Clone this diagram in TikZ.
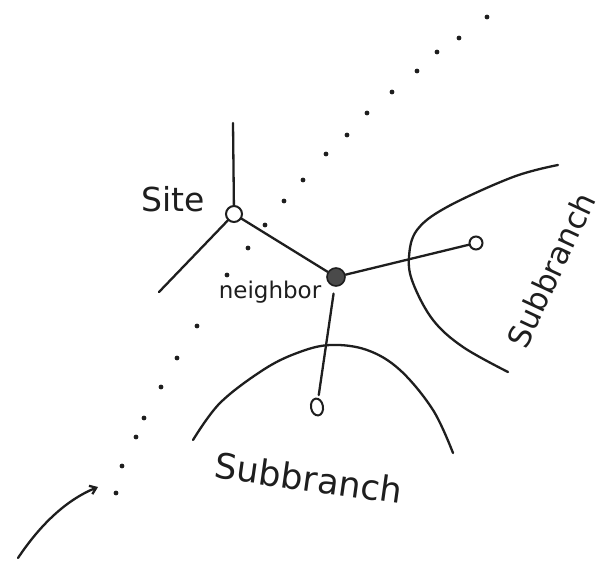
\documentclass[tikz,border=0pt]{standalone}
\usepackage{fontspec}
\setmainfont{DejaVu Sans}
\usetikzlibrary{arrows.meta,shapes.geometric}
\definecolor{ink}{HTML}{1E1E1E}
\definecolor{nbfill}{HTML}{4A4A4A}
\tikzset{
  pen/.style={draw=ink, line width=2.3pt, line cap=round, line join=round},
  opennode/.style={circle, draw=ink, line width=2pt, fill=white, inner sep=0pt},
  dotmark/.style={fill=ink},
  hand/.style={text=ink, inner sep=0pt}
}
\begin{document}
\begin{tikzpicture}[x=1pt,y=-1pt]
\useasboundingbox (0,0) rectangle (604,573);
\fill[white] (0,0) rectangle (604,573);

% dotted diagonal
\foreach \px/\py in {487/17,459/38,437/52,417/71,392/92,367/113,347/135,326/154,303/180,284/201,265/225,248/248,227/275,197/326,177/358,161/387,144/418,136/437,122/466,116/493}
  \fill[dotmark] (\px,\py) circle (2.4pt);

% subbranch curves
\draw[pen] plot[smooth, tension=0.6] coordinates {(558,165) (513,177) (447,207) (417,230) (409,257) (413,283) (433,320) (463,347) (508,372)};
\draw[pen] plot[smooth, tension=0.6] coordinates {(193,440) (220,403) (263,370) (297,353) (330,345) (367,350) (400,370) (433,410) (453,453)};

% nodes
\node[opennode, minimum size=16pt] (site) at (234,214) {};
\node[circle, draw=ink, fill=nbfill, line width=1.6pt, minimum size=18pt, inner sep=0pt] (nb) at (336,277) {};
\node[opennode, minimum size=13pt] (rc) at (476,243) {};
\node[ellipse, draw=ink, line width=2pt, fill=white, minimum width=12pt, minimum height=17pt, inner sep=0pt, rotate=10] (bc) at (317,407) {};

\coordinate (siteUp) at (233,123);
\coordinate (siteDL) at (159,292);

% connectors
\draw[pen] (site) -- (siteUp);
\draw[pen] (site) -- (siteDL);
\draw[pen] (site) -- (nb);
\draw[pen] (nb) -- (rc);
\draw[pen, shorten <=7pt, shorten >=3pt] (nb) -- (bc);

% arrow
\coordinate (arrS) at (18,558);
\coordinate (arrE) at (98,487);
\draw[pen, -{Straight Barb[length=6pt,width=9pt]}] (arrS) .. controls (40,525) and (66,500) .. (arrE);

% labels
\node[hand, font=\fontsize{33}{36}\selectfont] (sitelbl) at (173,199) {Site};
\node[hand, font=\fontsize{23}{26}\selectfont] (nblbl) at (270,292) {neighbor};
\node[hand, font=\fontsize{35}{40}\selectfont, rotate=-8] (sb1) at (309,478) {Subbranch};
\node[hand, font=\fontsize{31}{36}\selectfont, rotate=65] (sb2) at (551,270) {Subbranch};
\end{tikzpicture}
\end{document}
